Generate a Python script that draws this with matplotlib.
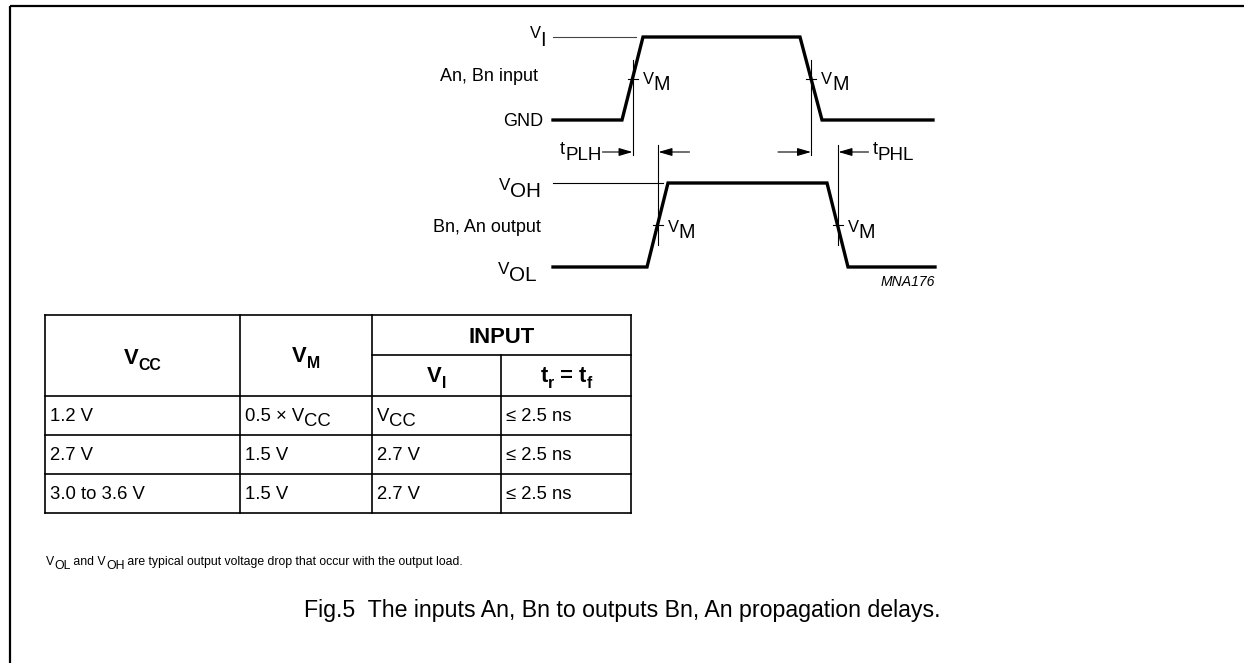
import re
import matplotlib
matplotlib.use("Agg")
import matplotlib.pyplot as plt

# ---------------- data ----------------
# waveform edge times (diagram x units) and logic levels
input_t = [553, 622, 643, 800, 822, 933]
input_lvl = [0, 0, 1, 1, 0, 0]
output_t = [553, 647, 668, 827, 848, 935]
output_lvl = [0, 0, 1, 1, 0, 0]

# table content (_{..} marks a subscript)
col_vcc = ["1.2 V", "2.7 V", "3.0 to 3.6 V"]
col_vm = ["0.5 × V_{CC}", "1.5 V", "1.5 V"]
col_vi = ["V_{CC}", "2.7 V", "2.7 V"]
col_trtf = ["≤ 2.5 ns", "≤ 2.5 ns", "≤ 2.5 ns"]
header_top = ["V_{CC}", "V_{M}", "INPUT"]
header_sub = ["V_{I}", "t_{r} = t_{f}"]

footnote = "V_{OL} and V_{OH} are typical output voltage drop that occur with the output load."
caption = "Fig.5  The inputs An, Bn to outputs Bn, An propagation delays."

# ---------------- figure ----------------
W, H = 1244, 663
fig = plt.figure(figsize=(W / 100, H / 100), dpi=100)
ax = fig.add_axes([0, 0, 1, 1])
ax.set_xlim(0, W)
ax.set_ylim(H, 0)
ax.axis("off")
FONT = "Liberation Sans"
renderer = fig.canvas.get_renderer()


def px(p):
    return p * 0.72


def rich(x, cy, s, size_px, ha="left", weight="normal", style="normal",
         main_scale=1.0, sub_scale=1.0, drop=0.33):
    pieces = re.split(r"_\{([^}]*)\}", s)
    parts = [(p, i % 2 == 1) for i, p in enumerate(pieces) if p]
    base = cy + 0.36 * size_px * main_scale
    texts = []
    total = 0
    for txt, sub in parts:
        sz = size_px * (sub_scale if sub else main_scale)
        t = ax.text(0, 0, txt, fontsize=px(sz), family=FONT, weight=weight,
                    style=style, va="baseline", ha="left")
        w = t.get_window_extent(renderer).width
        texts.append((t, sub, w))
        total += w
    if ha == "right":
        x0 = x - total
    elif ha == "center":
        x0 = x - total / 2
    else:
        x0 = x
    for t, sub, w in texts:
        yy = base + (drop * size_px if sub else 0)
        t.set_position((x0, yy))
        x0 += w
    return total


THICK = 2.4
THIN = 0.8
LBL = 18

# frame
ax.plot([10, W], [6, 6], color="black", lw=1.6, solid_capstyle="butt")
ax.plot([10, 10], [6, H], color="black", lw=1.6, solid_capstyle="butt")


def level_y(lvl, lo, hi):
    return [lo + (hi - lo) * v for v in lvl]


# ---- input waveform ----
in_lo, in_hi = 120, 37
ax.plot(input_t, level_y(input_lvl, in_lo, in_hi), color="black", lw=THICK,
        solid_joinstyle="miter")
ax.plot([input_t[0], input_t[2] - 7], [in_hi, in_hi], color="#444444", lw=THIN)
in_mid = (in_lo + in_hi) / 2
in_rise = (input_t[1] + input_t[2]) / 2
in_fall = (input_t[3] + input_t[4]) / 2
for xv in (in_rise, in_fall):
    ax.plot([xv, xv], [60, 155], color="black", lw=THIN)
    ax.plot([xv - 5, xv + 5], [in_mid, in_mid], color="black", lw=THIN)
    rich(xv + 10, in_mid, "V_{M}", LBL, main_scale=0.92, sub_scale=1.1, drop=0.33)

rich(546, in_hi - 5, "V_{I}", LBL, ha="right", main_scale=0.92, sub_scale=1.1, drop=0.45)
rich(538, 75, "An, Bn input", LBL, ha="right")
rich(543, in_lo, "GND", LBL, ha="right")

# ---- output waveform ----
out_lo, out_hi = 267, 183
ax.plot(output_t, level_y(output_lvl, out_lo, out_hi), color="black", lw=THICK,
        solid_joinstyle="miter")
ax.plot([output_t[0], output_t[2] - 5], [out_hi, out_hi], color="black", lw=THIN)
out_mid = (out_lo + out_hi) / 2
out_rise = (output_t[1] + output_t[2]) / 2
out_fall = (output_t[3] + output_t[4]) / 2
for xv in (out_rise, out_fall):
    ax.plot([xv, xv], [145, 245], color="black", lw=THIN)
    ax.plot([xv - 5, xv + 5], [out_mid, out_mid], color="black", lw=THIN)
    rich(xv + 10, out_mid + 1, "V_{M}", LBL, main_scale=0.92, sub_scale=1.1, drop=0.33)

rich(541, out_hi + 1, "V_{OH}", LBL, ha="right", main_scale=0.95, sub_scale=1.15, drop=0.4)
rich(541, 226, "Bn, An output", LBL, ha="right")
rich(537, out_lo + 1, "V_{OL}", LBL, ha="right", main_scale=0.95, sub_scale=1.15, drop=0.4)
ax.text(935, 282, "MNA176", fontsize=px(14), family=FONT, style="italic",
        ha="right", va="center")

# ---- propagation delay arrows ----
arr_y = 152
aprops = dict(arrowstyle="-|>,head_length=0.75,head_width=0.22", color="black",
              lw=THIN, shrinkA=0, shrinkB=0, mutation_scale=11)
ax.annotate("", xy=(in_rise, arr_y), xytext=(in_rise - 30, arr_y), arrowprops=aprops)
ax.annotate("", xy=(out_rise + 1, arr_y), xytext=(out_rise + 32, arr_y), arrowprops=aprops)
ax.annotate("", xy=(in_fall, arr_y), xytext=(in_fall - 33, arr_y), arrowprops=aprops)
ax.annotate("", xy=(out_fall + 1, arr_y), xytext=(out_fall + 31, arr_y), arrowprops=aprops)
rich(in_rise - 31, 148, "t_{PLH}", LBL, ha="right", sub_scale=1.05, drop=0.3)
rich(out_fall + 35, 148, "t_{PHL}", LBL, ha="left", sub_scale=1.05, drop=0.3)

# ---- table ----
col_edges = [45, 240, 372, 501, 631]
row_edges = [315, 355, 396, 435, 474, 513]
TL = 1.2
ax.plot([col_edges[0], col_edges[-1]], [row_edges[0]] * 2, color="black", lw=TL)
ax.plot([col_edges[2], col_edges[-1]], [row_edges[1]] * 2, color="black", lw=TL)
for r in row_edges[2:]:
    ax.plot([col_edges[0], col_edges[-1]], [r, r], color="black", lw=TL)
for i, c in enumerate(col_edges):
    top = row_edges[1] if i == 3 else row_edges[0]
    ax.plot([c, c], [top, row_edges[-1]], color="black", lw=TL)

HS = 22
TS = 18.5
hdr_cy = (row_edges[0] + row_edges[2]) / 2
rich((col_edges[0] + col_edges[1]) / 2, hdr_cy + 1, header_top[0], HS, ha="center",
     weight="bold", sub_scale=0.72, drop=0.25)
rich((col_edges[1] + col_edges[2]) / 2, hdr_cy - 1, header_top[1], HS, ha="center",
     weight="bold", sub_scale=0.72, drop=0.25)
rich((col_edges[2] + col_edges[4]) / 2, (row_edges[0] + row_edges[1]) / 2,
     header_top[2], HS, ha="center", weight="bold")
sub_cy = (row_edges[1] + row_edges[2]) / 2
rich((col_edges[2] + col_edges[3]) / 2, sub_cy - 1, header_sub[0], HS, ha="center",
     weight="bold", sub_scale=0.72, drop=0.25)
rich((col_edges[3] + col_edges[4]) / 2, sub_cy - 1, header_sub[1], HS, ha="center",
     weight="bold", sub_scale=0.72, drop=0.25)

for ri, row in enumerate(zip(col_vcc, col_vm, col_vi, col_trtf)):
    cy = (row_edges[ri + 2] + row_edges[ri + 3]) / 2
    for ci, val in enumerate(row):
        rich(col_edges[ci] + 5, cy - 1, val, TS, sub_scale=1.0, drop=0.28)

# ---- footnote and caption ----
rich(46, 561, footnote, 12.3, sub_scale=1.0, drop=0.3)
ax.text(622, 611, caption, fontsize=px(23.1), family=FONT, ha="center", va="center")

fig.savefig("out.png", dpi=100)
